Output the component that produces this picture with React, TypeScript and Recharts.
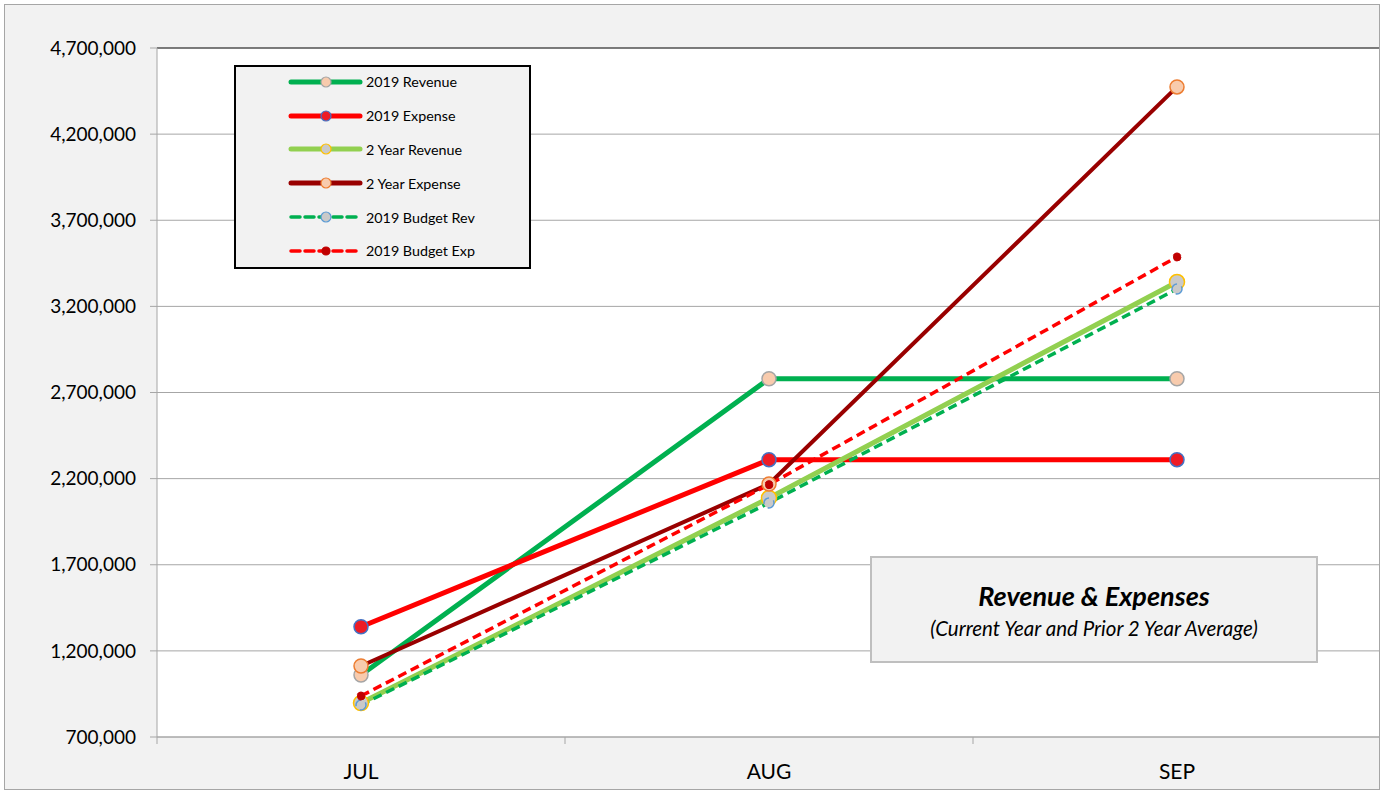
import React from "react";
import { LineChart, Line, XAxis, YAxis, CartesianGrid, ReferenceLine } from "recharts";

// categories and values
const months = ["JUL", "AUG", "SEP"];
const revenue2019 = [1060000, 2780000, 2780000];
const expense2019 = [1340000, 2310000, 2310000];
const revenue2Year = [897000, 2088000, 3342000];
const expense2Year = [1112000, 2169000, 4474000];
const budgetRev2019 = [886000, 2059000, 3301000];
const budgetExp2019 = [938000, 2165000, 3487000];

const yTicks = [700000, 1200000, 1700000, 2200000, 2700000, 3200000, 3700000, 4200000, 4700000];

const FONT = "Lato, 'Open Sans', sans-serif";

const data = months.map((m, i) => ({
  month: m,
  rev2019: revenue2019[i],
  exp2019: expense2019[i],
  rev2y: revenue2Year[i],
  exp2y: expense2Year[i],
  budRev: budgetRev2019[i],
  budExp: budgetExp2019[i],
}));

interface SeriesDef {
  key: string;
  name: string;
  color: string;
  width: number;
  dash?: string;
  dot: { r: number; fill: string; stroke: string; strokeWidth: number };
}

const series: SeriesDef[] = [
  { key: "rev2019", name: "2019 Revenue", color: "#00b050", width: 5, dot: { r: 7, fill: "#f8cbad", stroke: "#a5a5a5", strokeWidth: 1.5 } },
  { key: "exp2019", name: "2019 Expense", color: "#ff0000", width: 5, dot: { r: 7, fill: "#ee1c25", stroke: "#4472c4", strokeWidth: 1.5 } },
  { key: "rev2y", name: "2 Year Revenue", color: "#92d050", width: 5, dot: { r: 7.5, fill: "#c9c9c9", stroke: "#ffc000", strokeWidth: 1.5 } },
  { key: "exp2y", name: "2 Year Expense", color: "#990000", width: 4, dot: { r: 7, fill: "#f8cbad", stroke: "#ed7d31", strokeWidth: 1.5 } },
  { key: "budRev", name: "2019 Budget Rev", color: "#00b050", width: 3.5, dash: "9 5", dot: { r: 5, fill: "#c9c9c9", stroke: "#5b9bd5", strokeWidth: 1.5 } },
  { key: "budExp", name: "2019 Budget Exp", color: "#ff0000", width: 3.5, dash: "9 5", dot: { r: 4, fill: "#c00000", stroke: "#c00000", strokeWidth: 1 } },
];

const fmt = (v: number) => v.toLocaleString("en-US");

// category label plus the tick marks that sit between the categories
const MonthTick = (props: any) => {
  const { x, y, payload, width, visibleTicksCount, index } = props;
  const half = payload && payload.offset ? payload.offset : width / visibleTicksCount / 2;
  return (
    <g>
      <line x1={x - half} y1={y} x2={x - half} y2={y + 7} stroke="#a6a6a6" />
      {index === visibleTicksCount - 1 && (
        <line x1={x + half} y1={y} x2={x + half} y2={y + 7} stroke="#a6a6a6" />
      )}
      <text x={x} y={y + 33} textAnchor="middle" dominantBaseline="central" fontFamily={FONT} fontSize={21} fill="#000">
        {payload.value}
      </text>
    </g>
  );
};

const LegendBox = () => (
  <div
    style={{
      position: "absolute",
      left: 229,
      top: 60,
      width: 297,
      height: 204,
      boxSizing: "border-box",
      border: "2px solid #000",
      background: "#f2f2f2",
    }}
  >
    <div style={{ position: "relative", top: -2 }}>
      {series.map((s) => (
        <div key={s.key} style={{ display: "flex", alignItems: "center", height: 33.8, marginLeft: 52 }}>
          <svg width={76} height={20}>
            <line x1={3} y1={10} x2={72} y2={10} stroke={s.color} strokeWidth={s.dash ? 3.5 : 5} strokeDasharray={s.dash} strokeLinecap="round" />
            <circle cx={38} cy={10} r={Math.min(s.dot.r, 5)} fill={s.dot.fill} stroke={s.dot.stroke} strokeWidth={1.2} />
          </svg>
          <span style={{ fontFamily: FONT, fontSize: 14.3, color: "#000", marginLeft: 2 }}>{s.name}</span>
        </div>
      ))}
    </div>
  </div>
);

const TitleBox = () => (
  <div
    style={{
      position: "absolute",
      left: 865,
      top: 551,
      width: 448,
      height: 107,
      boxSizing: "border-box",
      border: "2px solid #bfbfbf",
      background: "#f2f2f2",
      fontFamily: FONT,
      textAlign: "center",
    }}
  >
    <div style={{ marginTop: 22, fontSize: 27, lineHeight: "32px", fontWeight: 700, fontStyle: "italic", color: "#000" }}>Revenue &amp; Expenses</div>
    <div style={{ marginTop: 3, fontSize: 20.5, lineHeight: "26px", fontStyle: "italic", color: "#000" }}>(Current Year and Prior 2 Year Average)</div>
  </div>
);

export default function App() {
  return (
    <div
      style={{
        position: "absolute",
        left: 4,
        top: 4,
        width: 1376,
        height: 786,
        boxSizing: "border-box",
        border: "1px solid #a6a6a6",
        background: "#f2f2f2",
        overflow: "hidden",
      }}
    >
      <LineChart width={1376} height={786} data={data} margin={{ top: 43, right: 0, bottom: 24, left: 0 }}>
        <CartesianGrid vertical={false} stroke="#a6a6a6" fill="#ffffff" fillOpacity={1} />
        <XAxis
          dataKey="month"
          scale="band"
          axisLine={{ stroke: "#a6a6a6" }}
          tickLine={false}
          tickSize={0}
          tickMargin={0}
          tick={<MonthTick />}
          interval={0}
        />
        <YAxis
          width={152}
          domain={[700000, 4700000]}
          ticks={yTicks}
          tickFormatter={fmt}
          axisLine={{ stroke: "#a6a6a6" }}
          tickLine={{ stroke: "#a6a6a6" }}
          tickSize={7}
          tickMargin={14}
          tick={{ fontFamily: FONT, fontSize: 19, fill: "#000" }}
          allowDataOverflow
        />
        <ReferenceLine y={4700000} stroke="#262626" />
        {series.map((s) => (
          <Line
            key={s.key}
            dataKey={s.key}
            name={s.name}
            type="linear"
            stroke={s.color}
            strokeWidth={s.width}
            strokeDasharray={s.dash}
            dot={s.dot}
            activeDot={false}
            isAnimationActive={false}
          />
        ))}
      </LineChart>
      <LegendBox />
      <TitleBox />
    </div>
  );
}
